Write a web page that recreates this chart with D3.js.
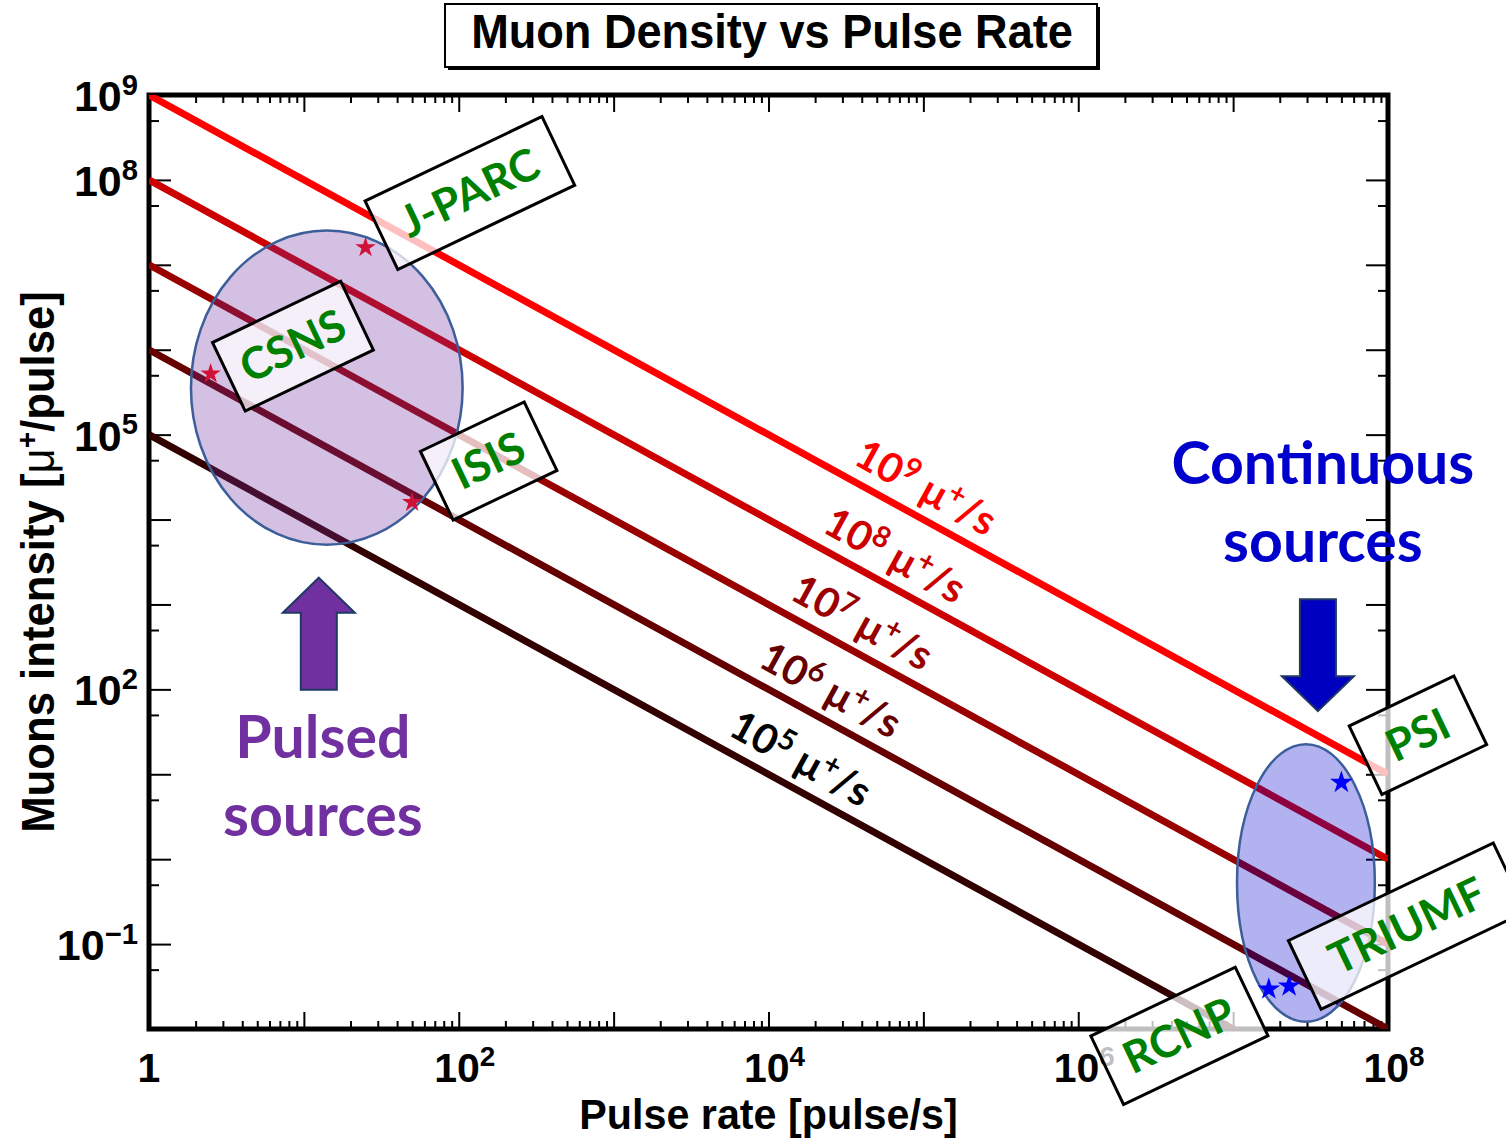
<!DOCTYPE html>
<html>
<head>
<meta charset="utf-8">
<script src="https://cdn.jsdelivr.net/npm/d3@7"></script>
<style>
  body { margin: 0; background: #fff; }
  svg { display: block; }
</style>
</head>
<body>
<div id="chart"></div>
<script>
// constant muon rates (mu+/s): intensity per pulse = rate / pulse rate
const rates = [1e9, 1e8, 1e7, 1e6, 1e5];
const rateExp = ["9", "8", "7", "6", "5"];
const rateLabelAt = [1.03e5, 6.5e4, 4.0e4, 2.5e4, 1.6e4];

// facilities
const pulsedNames = ["J-PARC", "CSNS", "ISIS"];
const pulsedRate = [25, 2.5, 50];
const pulsedIntensity = [1.6e7, 5.2e5, 1.6e4];

const contNames = ["PSI", "TRIUMF", "RCNP"];
const contRate = [5e7, 2.3e7, 1.7e7];
const contIntensity = [8, 0.032, 0.0295];

// where the name boxes sit (pulse rate, intensity)
const boxRate = [118, 8.5, 156, 1.56e8, 1.33e8, 4.5e6];
const boxIntensity = [7e7, 1.1e6, 4.9e4, 28.8, 0.163, 0.0083];

// ellipses round each group, in decades: [log10 x, log10 y, rx, ry]
const pulsedEllipse = [1.148, 5.553, 0.877, 1.85];
const contEllipse = [7.47, -0.28, 0.445, 1.635];

const yLabelTicks = [[1e9, "9"], [1e8, "8"], [1e5, "5"], [1e2, "2"], [1e-1, "\u22121"]];
const xLabelTicks = [[1, null], [1e2, "2"], [1e4, "4"], [1e6, "6"], [1e8, "8"]];

const width = 1506, height = 1141;
const pLeft = 149, pRight = 1388, pTop = 95, pBottom = 1029;

const svg = d3.select("#chart").append("svg")
    .attr("width", width)
    .attr("height", height);

const x = d3.scaleLog().domain([1, 1e8]).range([pLeft, pRight]);
const y = d3.scaleLog().domain([1e-2, 1e9]).range([pBottom, pTop]);

const helv = "'Liberation Sans', Arial, Helvetica, sans-serif";
const cal = "Lato, 'Open Sans', sans-serif";

svg.append("defs").append("clipPath").attr("id", "plot-clip")
  .append("rect")
    .attr("x", pLeft).attr("y", pTop)
    .attr("width", pRight - pLeft).attr("height", pBottom - pTop);

// ---- axes ticks ----
const decadesY = d3.range(-2, 10).map(k => Math.pow(10, k));
const minorY = d3.range(-2, 9).map(k => 5 * Math.pow(10, k));
const decadesX = d3.range(0, 9).map(k => Math.pow(10, k));
const minorX = [];
d3.range(0, 8).forEach(k => { for (let m = 2; m <= 9; m++) minorX.push(m * Math.pow(10, k)); });

function tickGroup(axis, tx, ty) {
  let g = svg.append("g").attr("transform", "translate(" + tx + "," + ty + ")").call(axis);
  g.select(".domain").remove();
  g.selectAll("text").remove();
  g.selectAll("line").attr("stroke", "#000").attr("stroke-width", 2);
  return g;
}

tickGroup(d3.axisLeft(y).tickValues(decadesY).tickSizeInner(-22).tickSizeOuter(0), pLeft, 0);
tickGroup(d3.axisLeft(y).tickValues(minorY).tickSizeInner(-10).tickSizeOuter(0), pLeft, 0);
tickGroup(d3.axisRight(y).tickValues(decadesY).tickSizeInner(-22).tickSizeOuter(0), pRight, 0);
tickGroup(d3.axisRight(y).tickValues(minorY).tickSizeInner(-10).tickSizeOuter(0), pRight, 0);
tickGroup(d3.axisBottom(x).tickValues(decadesX).tickSizeInner(-17).tickSizeOuter(0), 0, pBottom);
tickGroup(d3.axisBottom(x).tickValues(minorX).tickSizeInner(-8).tickSizeOuter(0), 0, pBottom);
tickGroup(d3.axisTop(x).tickValues(decadesX).tickSizeInner(-17).tickSizeOuter(0), 0, pTop);
tickGroup(d3.axisTop(x).tickValues(minorX).tickSizeInner(-8).tickSizeOuter(0), 0, pTop);

svg.append("rect")
    .attr("x", pLeft).attr("y", pTop)
    .attr("width", pRight - pLeft).attr("height", pBottom - pTop)
    .attr("fill", "none").attr("stroke", "#000").attr("stroke-width", 5);

// tick labels
function powerLabel(sel, base, exp, size) {
  sel.append("tspan").text(base);
  if (exp) {
    sel.append("tspan").attr("font-size", size * 0.68).attr("dy", -size * 0.38).text(exp);
  }
}

yLabelTicks.forEach(([v, e]) => {
  let t = svg.append("text")
      .attr("x", pLeft - 11).attr("y", y(v) + 16)
      .attr("text-anchor", "end")
      .attr("font-family", helv).attr("font-weight", "bold").attr("font-size", 43);
  powerLabel(t, "10", e, 43);
});

xLabelTicks.forEach(([v, e]) => {
  let t = svg.append("text")
      .attr("x", x(v) + (e ? 6 : 0)).attr("y", 1082)
      .attr("text-anchor", "middle")
      .attr("font-family", helv).attr("font-weight", "bold").attr("font-size", 41);
  powerLabel(t, e ? "10" : "1", e, 41);
});

// condensed-looking bold text (squeezed Liberation Sans)
function narrowText(tx, ty, rot, size, sx) {
  return svg.append("g")
      .attr("transform", "translate(" + tx + "," + ty + ") rotate(" + rot + ") scale(" + sx + ",1)")
    .append("text")
      .attr("text-anchor", "middle")
      .attr("font-family", helv).attr("font-weight", "bold").attr("font-size", size);
}

// axis titles
narrowText((pLeft + pRight) / 2, 1129, 0, 43, 0.96).text("Pulse rate [pulse/s]");

let yt = narrowText(54, (pTop + pBottom) / 2, -90, 47, 0.93);
yt.append("tspan").text("Muons intensity [");
yt.append("tspan").attr("font-weight", "normal").text("\u03bc");
yt.append("tspan").attr("font-size", 30).attr("dy", -17).text("+");
yt.append("tspan").attr("dy", 17).text("/pulse]");

// ---- constant-rate lines ----
const lineColor = d3.scaleOrdinal().domain(rates)
    .range(["#ff0000", "#cc0000", "#990000", "#660000", "#330000"]);
const textColor = d3.scaleOrdinal().domain(rates)
    .range(["#ff0000", "#cc0000", "#990000", "#660000", "#000000"]);

const line = d3.line().x(d => x(d[0])).y(d => y(d[1]));
svg.append("g").attr("clip-path", "url(#plot-clip)")
  .selectAll("path").data(rates).join("path")
    .attr("d", r => line([[1, r], [1e8, r / 1e8]]))
    .attr("fill", "none")
    .attr("stroke", r => lineColor(r))
    .attr("stroke-width", 7);

// ---- ellipses ----
function ellipse(p, fill) {
  let cx = x(Math.pow(10, p[0])), cy = y(Math.pow(10, p[1]));
  let rx = x(Math.pow(10, p[0] + p[2])) - cx;
  let ry = cy - y(Math.pow(10, p[1] + p[3]));
  svg.append("ellipse")
      .attr("cx", cx).attr("cy", cy).attr("rx", rx).attr("ry", ry)
      .attr("fill", fill).attr("fill-opacity", 0.3)
      .attr("stroke", "#3c5e99").attr("stroke-width", 2.5);
  return { cx, cy, rx, ry };
}
const pe = ellipse(pulsedEllipse, "#7030a0");
const ce = ellipse(contEllipse, "#0000cc");

// ---- stars ----
const star = d3.symbol().type(d3.symbolStar);
svg.append("g").selectAll("path").data(pulsedRate).join("path")
    .attr("transform", (d, i) => "translate(" + x(d) + "," + y(pulsedIntensity[i]) + ")")
    .attr("d", star.size(130)())
    .attr("fill", "#d01238");
svg.append("g").selectAll("path").data(contRate).join("path")
    .attr("transform", (d, i) => "translate(" + x(d) + "," + y(contIntensity[i]) + ")")
    .attr("d", star.size(160)())
    .attr("fill", "#0000ff");

// ---- arrows ----
function arrow(cx, tipY, dir, fill) {
  // dir = -1 points up, +1 points down
  const hw = 36, sw = 18, hh = 35, len = 112;
  const b = tipY - dir * hh, e = tipY - dir * len;
  const pts = [[cx, tipY], [cx + hw, b], [cx + sw, b], [cx + sw, e],
               [cx - sw, e], [cx - sw, b], [cx - hw, b]];
  svg.append("path")
      .attr("d", d3.line()(pts) + "Z")
      .attr("fill", fill).attr("stroke", "#1f3864").attr("stroke-width", 2);
}
arrow(pe.cx - 8, pe.cy + pe.ry + 33, -1, "#7030a0");
arrow(ce.cx + 12, ce.cy - ce.ry - 33, 1, "#0000c0");

// group captions
function caption(lines, cx, y0, color) {
  lines.forEach((s, i) => {
    svg.append("text")
        .attr("x", cx).attr("y", y0 + i * 78)
        .attr("text-anchor", "middle")
        .attr("font-family", cal).attr("font-weight", "bold").attr("font-size", 59)
        .attr("fill", color)
        .text(s);
  });
}
caption(["Pulsed", "sources"], pe.cx - 4, pe.cy + pe.ry + 213, "#7030a0");
caption(["Continuous", "sources"], ce.cx + 17, ce.cy - ce.ry - 260, "#0000cc");

// ---- labels along the lines ----
const ang = Math.atan((y(1) - y(10)) / (x(10) - x(1))) * 180 / Math.PI;
rates.forEach((r, i) => {
  let px = x(rateLabelAt[i]), py = y(r / rateLabelAt[i]) - 32;
  let t = svg.append("text")
      .attr("transform", "translate(" + px + "," + py + ") rotate(" + ang + ")")
      .attr("text-anchor", "middle").attr("dy", 13)
      .attr("font-family", cal).attr("font-weight", "bold").attr("font-size", 41)
      .attr("fill", textColor(r));
  t.append("tspan").text("10");
  t.append("tspan").attr("font-size", 29).attr("dy", -14).text(rateExp[i]);
  t.append("tspan").attr("dy", 14).text(" \u03bc");
  t.append("tspan").attr("font-size", 29).attr("dy", -14).text("+");
  t.append("tspan").attr("dy", 14).text("/s");
});

// ---- facility name boxes ----
const names = pulsedNames.concat(contNames);
const boxW = [196, 142, 115, 116, 227, 160];
names.forEach((n, i) => {
  let g = svg.append("g")
      .attr("transform", "translate(" + x(boxRate[i]) + "," + y(boxIntensity[i]) + ") rotate(-25.5)");
  g.append("rect")
      .attr("x", -boxW[i] / 2).attr("y", -38)
      .attr("width", boxW[i]).attr("height", 76)
      .attr("fill", "#fff").attr("fill-opacity", 0.75)
      .attr("stroke", "#000").attr("stroke-width", 3);
  g.append("text")
      .attr("text-anchor", "middle").attr("dy", 15)
      .attr("font-family", cal).attr("font-weight", "bold").attr("font-size", 44)
      .attr("fill", "#008000")
      .text(n);
});

// ---- title ----
svg.append("rect").attr("x", 448).attr("y", 7).attr("width", 652).attr("height", 63).attr("fill", "#000");
svg.append("rect").attr("x", 445).attr("y", 4).attr("width", 652).attr("height", 63)
    .attr("fill", "#fff").attr("stroke", "#000").attr("stroke-width", 2);
narrowText(772, 48, 0, 48, 0.94).text("Muon Density vs Pulse Rate");
</script>
</body>
</html>
